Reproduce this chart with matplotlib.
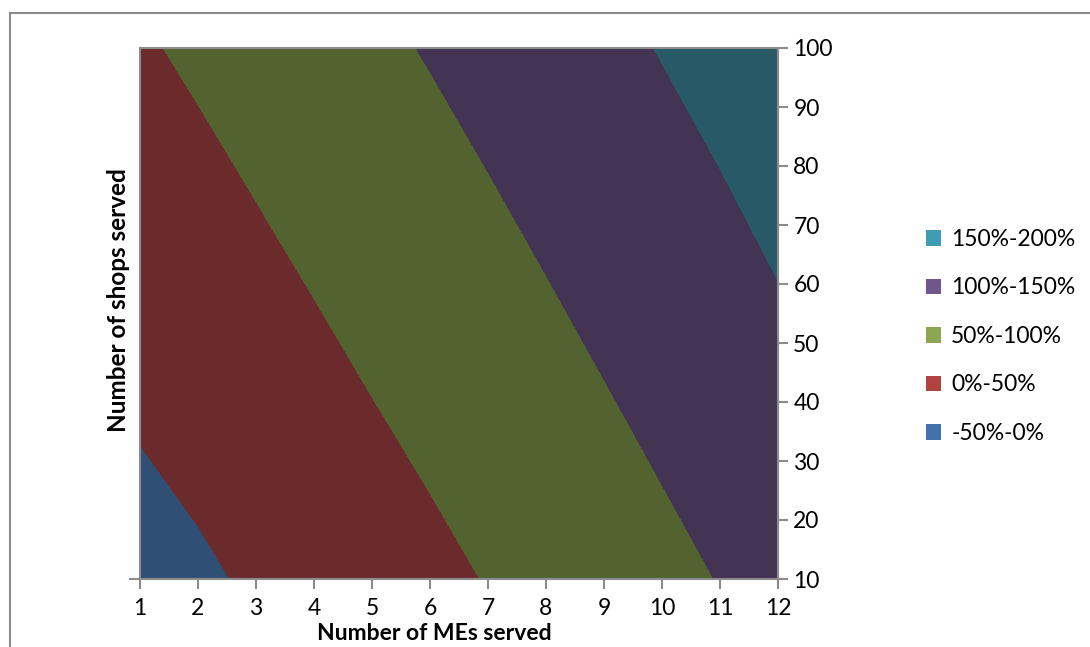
import matplotlib
matplotlib.use('Agg')
import matplotlib.pyplot as plt
from matplotlib.patches import Patch
from matplotlib.lines import Line2D
import numpy as np

plt.rcParams['font.family'] = ['Lato', 'DejaVu Sans']

# grid of the surface: MEs served (columns) x shops served (rows), return in %
mes = [1, 2, 3, 4, 5, 6, 7, 8, 9, 10, 11, 12]
shops = [10, 20, 30, 40, 50, 60, 70, 80, 90, 100]
ret = [
    [-15.4, -6.3, 5.2, 16.7, 28.4, 39.8, 51.7, 63.9, 76.3, 88.8, 101.3, 114.6],
    [-8.6, 0.7, 12.2, 23.7, 35.4, 46.8, 58.7, 70.9, 83.3, 95.8, 108.3, 121.6],
    [-1.9, 7.7, 19.2, 30.7, 42.4, 53.8, 65.7, 77.9, 90.3, 102.8, 115.3, 128.6],
    [4.9, 14.7, 26.2, 37.7, 49.4, 60.8, 72.7, 84.9, 97.3, 109.8, 122.3, 135.6],
    [11.7, 21.7, 33.2, 44.7, 56.4, 67.8, 79.7, 91.9, 104.3, 116.8, 129.3, 142.6],
    [18.4, 28.7, 40.2, 51.7, 63.4, 74.8, 86.7, 98.9, 111.3, 123.8, 136.3, 149.6],
    [25.2, 35.7, 47.2, 58.7, 70.4, 81.8, 93.7, 105.9, 118.3, 130.8, 143.3, 156.6],
    [32.0, 42.7, 54.2, 65.7, 77.4, 88.8, 100.7, 112.9, 125.3, 137.8, 150.3, 163.6],
    [38.7, 49.7, 61.2, 72.7, 84.4, 95.8, 107.7, 119.9, 132.3, 144.8, 157.3, 170.6],
    [45.5, 56.7, 68.2, 79.7, 91.4, 102.8, 114.7, 126.9, 139.3, 151.8, 164.3, 177.6],
]
levels = [-50, 0, 50, 100, 150, 200]
band_labels = ['-50%-0%', '0%-50%', '50%-100%', '100%-150%', '150%-200%']

# shaded surface colours and the brighter legend swatches
fill_colors = ['#2f4f75', '#6b2b2d', '#52632f', '#433453', '#275a66']
key_colors = ['#4272ab', '#b0433f', '#8ba752', '#70568f', '#3f9cb2']

fig = plt.figure(figsize=(10.9, 6.47), dpi=100)
ax = fig.add_axes([140 / 1090, 68 / 647, 638 / 1090, 531 / 647])

X, Y = np.meshgrid(mes, shops)
ax.contourf(X, Y, np.array(ret), levels=levels, colors=fill_colors)

ax.set_xlim(1, 12)
ax.set_ylim(10, 100)
ax.set_xticks(mes)
ax.set_yticks(range(10, 101, 10))
ax.yaxis.tick_right()
ax.tick_params(axis='both', direction='out', length=7, width=1.5,
               color='#8c8c8c', labelsize=16.5)
ax.tick_params(axis='x', pad=7)
ax.tick_params(axis='y', pad=4)
for side in ['left', 'right', 'top', 'bottom']:
    ax.spines[side].set_color('#8c8c8c')
    ax.spines[side].set_linewidth(1.5)

# short stub of the category axis left of the first column
ax.add_line(Line2D([-0.015, 0], [0, 0], transform=ax.transAxes,
                   color='#8c8c8c', lw=1.5, clip_on=False))

fig.text(434 / 1090, 1 - 634 / 647, 'Number of MEs served',
         fontsize=16.5, fontweight='bold', ha='center', va='center')
fig.text(118 / 1090, 1 - 300 / 647, 'Number of shops served', rotation=90,
         fontsize=17.5, fontweight='bold', ha='center', va='center')

handles = [Patch(facecolor=c, edgecolor='none') for c in key_colors]
fig.legend(handles[::-1], band_labels[::-1], loc='upper left',
           bbox_to_anchor=(926 / 1090, 1 - 229 / 647), frameon=False,
           fontsize=16.5, handlelength=0.65, handleheight=0.65, handletextpad=0.45,
           labelspacing=1.2, borderpad=0, borderaxespad=0)

# outer chart frame
fig.add_artist(Line2D([10 / 1090, 1.01], [1 - 13 / 647, 1 - 13 / 647],
                      transform=fig.transFigure, color='#8c8c8c', lw=1.5))
fig.add_artist(Line2D([10 / 1090, 10 / 1090], [1 - 13 / 647, -0.01],
                      transform=fig.transFigure, color='#8c8c8c', lw=1.5))

fig.savefig('out.png', dpi=100)
